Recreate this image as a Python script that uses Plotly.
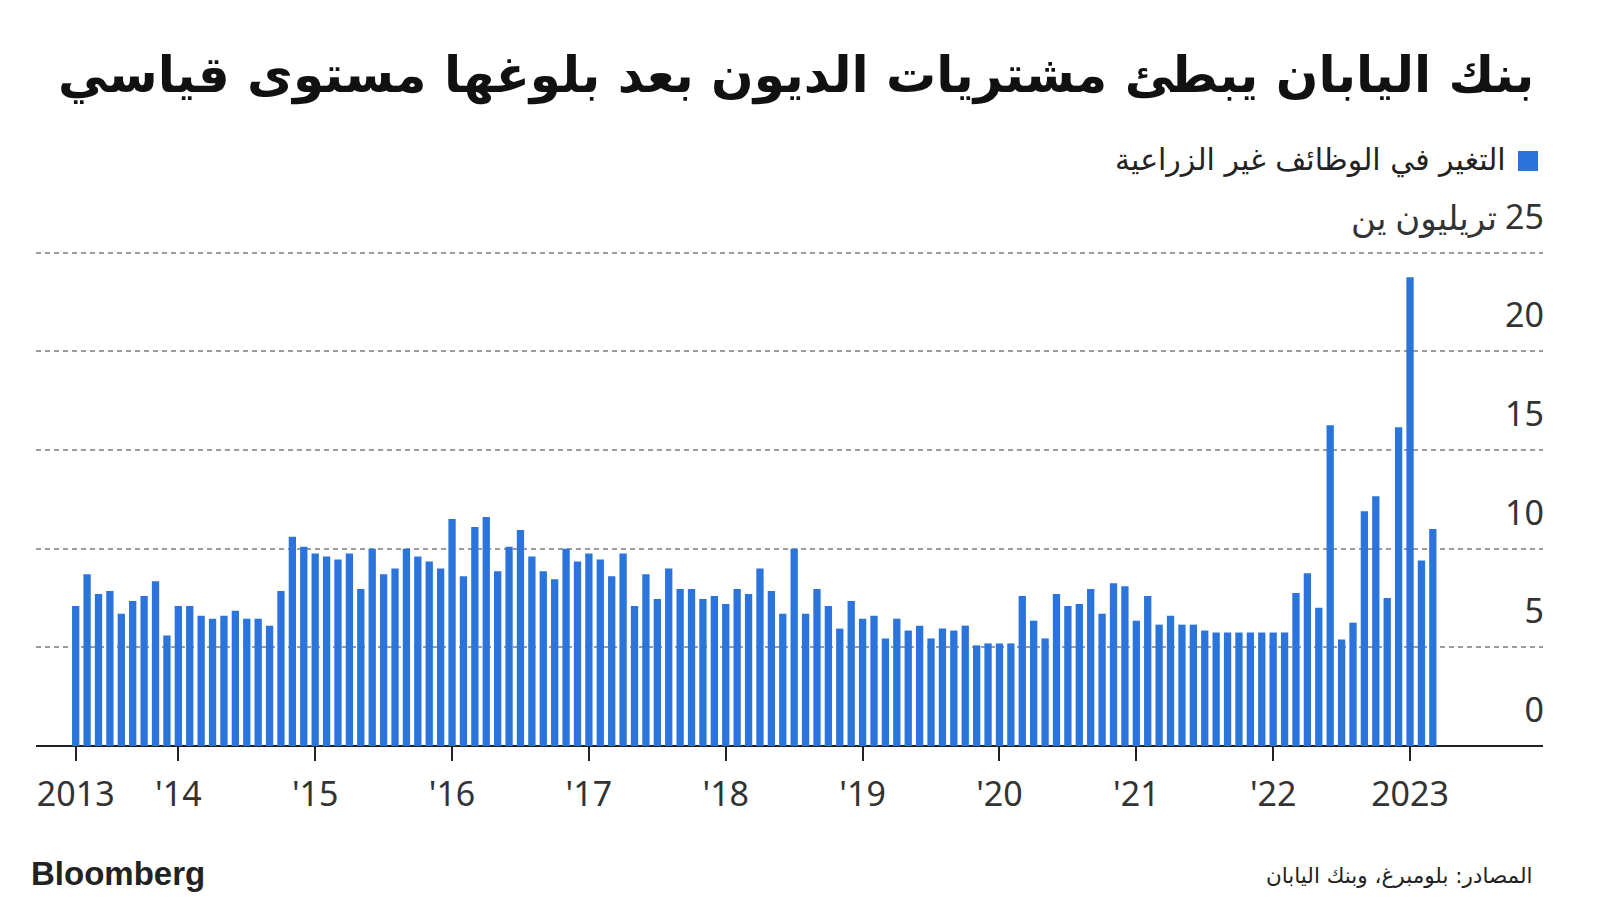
import pandas as pd
import plotly.graph_objects as go

# ---- data ----
months = [p.strftime("%Y-%m") for p in pd.period_range("2013-04", "2023-03", freq="M")]
purchases = [
    7.1, 8.7, 7.7, 7.85, 6.7, 7.35, 7.6, 8.35, 5.6, 7.1, 7.1, 6.6,
    6.45, 6.6, 6.85, 6.45, 6.45, 6.1, 7.85, 10.6, 10.1, 9.75, 9.6, 9.45,
    9.75, 7.95, 10.0, 8.7, 9.0, 10.0, 9.6, 9.35, 9.0, 11.5, 8.6, 11.1,
    11.6, 8.85, 10.1, 10.95, 9.6, 8.85, 8.45, 10.0, 9.35, 9.75, 9.45, 8.6,
    9.75, 7.1, 8.7, 7.45, 9.0, 7.95, 7.95, 7.45, 7.6, 7.2, 7.95, 7.7,
    9.0, 7.85, 6.7, 10.0, 6.7, 7.95, 7.1, 5.95, 7.35, 6.45, 6.6, 5.45,
    6.45, 5.85, 6.1, 5.45, 5.95, 5.85, 6.1, 5.1, 5.2, 5.2, 5.2, 7.6,
    6.35, 5.45, 7.7, 7.1, 7.2, 7.95, 6.7, 8.25, 8.1, 6.35, 7.6, 6.15,
    6.6, 6.15, 6.15, 5.85, 5.75, 5.75, 5.75, 5.75, 5.75, 5.75, 5.75, 7.75,
    8.75, 7.0, 16.25, 5.4, 6.25, 11.9, 12.65, 7.5, 16.15, 23.75, 9.4, 11.0,
]
x_tickvals = ["2013-04", "2014-01", "2015-01", "2016-01", "2017-01", "2018-01",
              "2019-01", "2020-01", "2021-01", "2022-01", "2023-01"]
x_ticktext = ["2013", "'14", "'15", "'16", "'17", "'18", "'19", "'20", "'21", "'22", "2023"]
y_tickvals = [0, 5, 10, 15, 20, 25]
y_ticktext = ["0", "5", "10", "15", "20", "25"]
y_unit = "تريليون ين"

title_text = "بنك اليابان يبطئ مشتريات الديون بعد بلوغها مستوى قياسي"
legend_text = "التغير في الوظائف غير الزراعية"
source_text = "المصادر: بلومبرغ، وبنك اليابان"
brand_text = "Bloomberg"

BLUE = "#2A74DB"
W, H = 1600, 904
Y_MAX = 30
L, R, B = 36, 57, 158
PX_PER_UNIT = 19.72
T = round(H - B - Y_MAX * PX_PER_UNIT)
PW, PH = W - L - R, H - T - B


def px(x):
    return (x - L) / PW


def py(y):
    return (H - B - y) / PH


fig = go.Figure()
fig.add_trace(go.Bar(x=months, y=purchases, marker=dict(color=BLUE, line=dict(width=0)),
                     name=legend_text, showlegend=False))

fig.update_layout(
    width=W, height=H,
    margin=dict(l=L, r=R, t=T, b=B, pad=0),
    paper_bgcolor="white", plot_bgcolor="rgba(0,0,0,0)",
    bargap=0.36,
    font=dict(family="Noto Sans, DejaVu Sans", color="#333333"),
    xaxis=dict(
        type="category",
        range=[-3.48, 128.66],
        tickmode="array", tickvals=x_tickvals, ticktext=x_ticktext,
        showgrid=False, zeroline=False,
        showline=False,
        ticks="outside", ticklen=14, tickwidth=1.5, tickcolor="#222222",
        tickfont=dict(size=34, color="#333333", family="Noto Sans"),
        ticklabelstandoff=4,
        fixedrange=True,
    ),
    yaxis=dict(
        range=[0, Y_MAX],
        side="right",
        tickmode="array", tickvals=y_tickvals, ticktext=y_ticktext,
        ticklabelposition="inside top",
        ticks="",
        showgrid=True, gridcolor="#9c9c9c", gridwidth=2, griddash="5px,4px",
        zeroline=True, zerolinecolor="#222222", zerolinewidth=2,
        showline=False,
        tickfont=dict(size=34, color="#333333", family="Noto Sans, DejaVu Sans"),
        ticklabelshift=-12,
        ticklabelstandoff=-4,
        fixedrange=True,
    ),
)

annotations = [
    dict(text="<b>" + title_text + "</b>", x=px(1536), y=py(76), xanchor="right", yanchor="middle",
         font=dict(size=50, color="#111111", family="DejaVu Sans")),
    dict(text=legend_text, x=px(1508), y=py(160), xanchor="right", yanchor="middle",
         font=dict(size=30, color="#222222", family="DejaVu Sans")),
    dict(text=y_unit, x=px(1499), y=py(217), xanchor="right", yanchor="middle",
         font=dict(size=34, color="#333333", family="Noto Sans, DejaVu Sans")),
    dict(text=source_text, x=px(1535), y=py(875), xanchor="right", yanchor="middle",
         font=dict(size=21.5, color="#222222", family="DejaVu Sans")),
    dict(text="<b>" + brand_text + "</b>", x=px(29), y=py(873), xanchor="left", yanchor="middle",
         font=dict(size=33, color="#222222", family="Liberation Sans")),
]
for a in annotations:
    a.update(xref="paper", yref="paper", showarrow=False)
fig.update_layout(annotations=annotations)

fig.add_shape(type="rect", xref="paper", yref="paper",
              x0=px(1518), x1=px(1538), y0=py(171), y1=py(151),
              fillcolor=BLUE, line=dict(width=0))

fig.write_html("out.html", config={"displayModeBar": False})
